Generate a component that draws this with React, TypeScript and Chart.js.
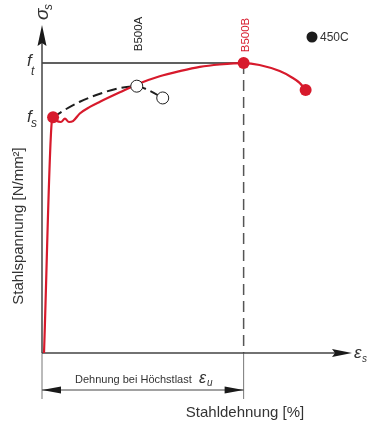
import React, { useEffect, useRef } from "react";
import { Chart, registerables } from "chart.js";

Chart.register(...registerables);

// Strain [%] / stress [N/mm²] values
const X_MAX = 12.3;
const Y_MAX = 700;
const FS = 500; // yield strength f_s
const FT = 615; // tensile strength f_t
const EPS_U = 8.0; // strain at max load

// B500B (red) curve
const b500bX = [0.08, 0.4, 0.44, 0.59, 0.75, 0.91, 1.07, 1.23, 1.5, 1.9, 2.3, 3.09, 3.88, 4.67, 5.47, 6.26, 7.05, 8.0, 8.63, 9.43, 9.9, 10.22, 10.46];
const b500bY = [0, 496, 500, 492, 490, 497, 490, 492, 508, 522, 533, 553, 572, 587, 598, 607, 612, 615, 611, 598, 585, 573, 558];
// B500B marked points (yield, max load, rupture)
const b500bDotX = [0.44, 8.0, 10.46];
const b500bDotY = [500, 615, 558];

// B500A (black dashed) curve
const b500aX = [0.44, 0.91, 1.5, 2.3, 3.09, 3.76, 4.28, 4.79];
const b500aY = [500, 516, 533, 550, 562, 566, 556, 541];
// B500A marked points (max load, rupture)
const b500aDotX = [3.76, 4.79];
const b500aDotY = [566, 541];

const RED = "#d71a2c";
const DARK = "#2b2b2b";
const TEXT = "#333333";

const pts = (xs: number[], ys: number[]) => xs.map((x, i) => ({ x, y: ys[i] }));

const overlay = {
  id: "overlay",
  beforeDatasetsDraw(chart: any) {
    const { ctx, chartArea, scales } = chart;
    const xs = scales.x, ys = scales.y;
    const x0 = xs.getPixelForValue(0);
    const y0 = ys.getPixelForValue(0);
    const xu = xs.getPixelForValue(EPS_U);
    const yt = ys.getPixelForValue(FT);
    ctx.save();
    // f_t horizontal line
    ctx.strokeStyle = DARK;
    ctx.lineWidth = 1.5;
    ctx.beginPath();
    ctx.moveTo(x0, yt);
    ctx.lineTo(xu, yt);
    ctx.stroke();
    // vertical dashed line at eps_u
    ctx.strokeStyle = "#555";
    ctx.lineWidth = 1.5;
    ctx.setLineDash([11, 6]);
    ctx.beginPath();
    ctx.moveTo(xu, yt);
    ctx.lineTo(xu, y0);
    ctx.stroke();
    ctx.setLineDash([]);
    // extension lines below the axis
    ctx.strokeStyle = "#777";
    ctx.lineWidth = 1;
    ctx.beginPath();
    ctx.moveTo(x0, y0);
    ctx.lineTo(x0, y0 + 46);
    ctx.moveTo(xu, y0);
    ctx.lineTo(xu, y0 + 46);
    ctx.stroke();
    // axes
    ctx.strokeStyle = "#444";
    ctx.lineWidth = 1.5;
    ctx.beginPath();
    ctx.moveTo(x0, y0);
    ctx.lineTo(x0, chartArea.top + 8);
    ctx.moveTo(x0, y0);
    ctx.lineTo(chartArea.right - 8, y0);
    ctx.stroke();
    ctx.fillStyle = "#1a1a1a";
    // y arrow
    ctx.beginPath();
    ctx.moveTo(x0, chartArea.top + 2);
    ctx.lineTo(x0 + 4.5, chartArea.top + 23);
    ctx.lineTo(x0, chartArea.top + 20);
    ctx.lineTo(x0 - 4.5, chartArea.top + 23);
    ctx.closePath();
    ctx.fill();
    // x arrow
    ctx.beginPath();
    ctx.moveTo(chartArea.right, y0);
    ctx.lineTo(chartArea.right - 20, y0 - 4);
    ctx.lineTo(chartArea.right - 17, y0);
    ctx.lineTo(chartArea.right - 20, y0 + 4);
    ctx.closePath();
    ctx.fill();
    // dimension arrow line
    const yd = y0 + 37;
    ctx.strokeStyle = "#444";
    ctx.lineWidth = 1;
    ctx.beginPath();
    ctx.moveTo(x0, yd);
    ctx.lineTo(xu, yd);
    ctx.stroke();
    ctx.beginPath();
    ctx.moveTo(x0, yd);
    ctx.lineTo(x0 + 19, yd - 3.5);
    ctx.lineTo(x0 + 19, yd + 3.5);
    ctx.closePath();
    ctx.moveTo(xu, yd);
    ctx.lineTo(xu - 19, yd - 3.5);
    ctx.lineTo(xu - 19, yd + 3.5);
    ctx.closePath();
    ctx.fill();
    ctx.restore();
  },
  afterDraw(chart: any) {
    const { ctx, chartArea, scales } = chart;
    const xs = scales.x, ys = scales.y;
    const x0 = xs.getPixelForValue(0);
    const y0 = ys.getPixelForValue(0);
    const xu = xs.getPixelForValue(EPS_U);
    const yt = ys.getPixelForValue(FT);
    const yf = ys.getPixelForValue(FS);
    const xa = xs.getPixelForValue(b500aDotX[0]);
    ctx.save();
    const SANS = '"Liberation Sans", Arial, sans-serif';
    // f_t and f_s
    ctx.fillStyle = TEXT;
    ctx.textAlign = "left";
    ctx.textBaseline = "alphabetic";
    ctx.font = `italic 17px ${SANS}`;
    ctx.fillText("f", x0 - 15, yt + 3);
    ctx.fillText("f", x0 - 15, yf + 5);
    ctx.font = `italic 12px ${SANS}`;
    ctx.fillText("t", x0 - 11, yt + 12);
    ctx.fillText("s", x0 - 11, yf + 10);
    // sigma_s rotated at the top of the y axis
    ctx.save();
    ctx.translate(x0 + 6, chartArea.top - 3);
    ctx.rotate(-Math.PI / 2);
    ctx.font = `italic 19px ${SANS}`;
    ctx.fillText("σ", 0, 0);
    ctx.font = `italic 12px ${SANS}`;
    ctx.fillText("s", 10, 4);
    ctx.restore();
    // eps_s at the end of the x axis
    ctx.font = `italic 17px ${SANS}`;
    ctx.fillText("ε", chartArea.right + 2, y0 + 5);
    ctx.font = `italic 10px ${SANS}`;
    ctx.fillText("s", chartArea.right + 10, y0 + 9);
    // series labels
    ctx.save();
    ctx.translate(xa + 5, 34);
    ctx.rotate(-Math.PI / 2);
    ctx.font = `11.5px ${SANS}`;
    ctx.textAlign = "center";
    ctx.fillStyle = "#222";
    ctx.fillText("B500A", 0, 0);
    ctx.restore();
    ctx.save();
    ctx.translate(xu + 5, 35);
    ctx.rotate(-Math.PI / 2);
    ctx.font = `11.5px ${SANS}`;
    ctx.textAlign = "center";
    ctx.fillStyle = RED;
    ctx.fillText("B500B", 0, 0);
    ctx.restore();
    // 450C legend
    ctx.fillStyle = "#1c1c1c";
    ctx.beginPath();
    ctx.arc(312, 37, 5.5, 0, Math.PI * 2);
    ctx.fill();
    ctx.fillStyle = TEXT;
    ctx.font = `12px ${SANS}`;
    ctx.textBaseline = "middle";
    ctx.fillText("450C", 320, 38);
    // dimension text
    ctx.textBaseline = "alphabetic";
    ctx.font = `11px ${SANS}`;
    ctx.fillText("Dehnung bei Höchstlast", 75, y0 + 30);
    ctx.font = `italic 16px ${SANS}`;
    ctx.fillText("ε", 199, y0 + 30);
    ctx.font = `italic 10px ${SANS}`;
    ctx.fillText("u", 207, y0 + 33);
    // axis titles
    ctx.font = `15px ${SANS}`;
    ctx.fillStyle = TEXT;
    ctx.textAlign = "center";
    ctx.fillText("Stahldehnung [%]", 245, 417);
    ctx.save();
    ctx.translate(23, 226);
    ctx.rotate(-Math.PI / 2);
    ctx.fillText("Stahlspannung [N/mm²]", 0, 0);
    ctx.restore();
    ctx.restore();
  },
};

export default function App() {
  const ref = useRef<HTMLCanvasElement | null>(null);
  useEffect(() => {
    if (!ref.current) return;
    const chart = new Chart(ref.current, {
      type: "scatter",
      data: {
        datasets: [
          {
            label: "B500A",
            data: pts(b500aX, b500aY),
            showLine: true,
            borderColor: "#1e1e1e",
            borderWidth: 2,
            borderDash: [10, 5],
            pointRadius: 0,
            cubicInterpolationMode: "monotone",
            order: 3,
          },
          {
            label: "B500B",
            data: pts(b500bX, b500bY),
            showLine: true,
            borderColor: RED,
            borderWidth: 2.2,
            pointRadius: 0,
            cubicInterpolationMode: "monotone",
            order: 2,
          },
          {
            label: "B500A points",
            data: pts(b500aDotX, b500aDotY),
            showLine: false,
            pointRadius: 6,
            pointBackgroundColor: "#ffffff",
            pointBorderColor: "#1e1e1e",
            pointBorderWidth: 1,
            order: 1,
          },
          {
            label: "B500B points",
            data: pts(b500bDotX, b500bDotY),
            showLine: false,
            pointRadius: 6,
            pointBackgroundColor: RED,
            pointBorderColor: RED,
            pointBorderWidth: 0,
            order: 0,
          },
        ],
      },
      options: {
        responsive: false,
        animation: false,
        devicePixelRatio: 1,
        layout: { padding: { left: 42, right: 16, top: 23, bottom: 69 } },
        plugins: { legend: { display: false }, tooltip: { enabled: false } },
        scales: {
          x: { type: "linear", min: 0, max: X_MAX, display: false },
          y: { type: "linear", min: 0, max: Y_MAX, display: false },
        },
      },
      plugins: [overlay],
    });
    return () => chart.destroy();
  }, []);
  return (
    <div style={{ position: "absolute", left: 0, top: 0, width: 368, height: 422, background: "#fff" }}>
      <canvas ref={ref} width={368} height={422} />
    </div>
  );
}
